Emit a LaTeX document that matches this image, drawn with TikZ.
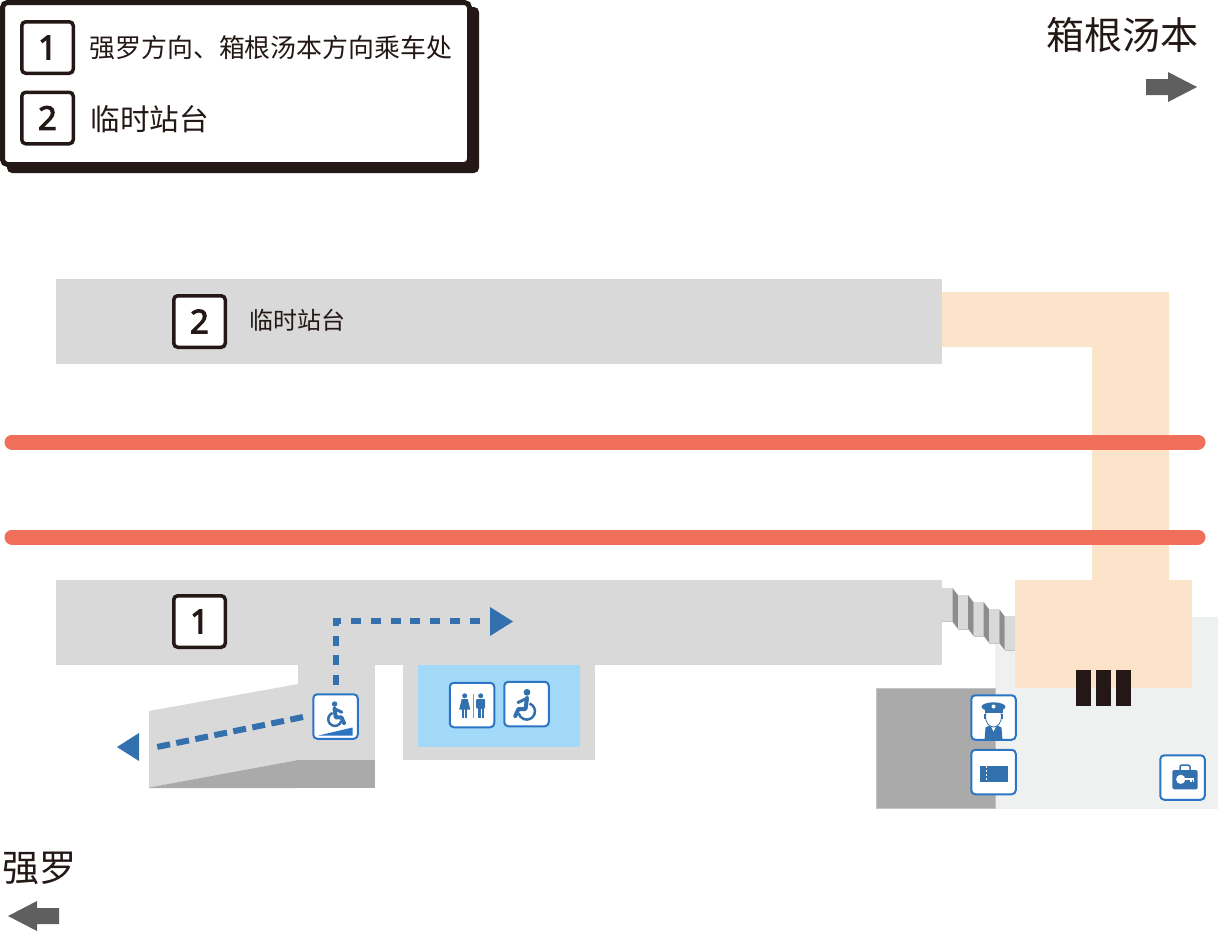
\documentclass[tikz,border=0pt]{standalone}
\usepackage{fontspec}
\usetikzlibrary{calc}
\setmainfont{Noto Sans}
\newfontfamily\cjk{Noto Sans CJK SC}
\newfontfamily\numfont[FakeBold=3]{Noto Sans}
\definecolor{ink}{HTML}{231815}
\definecolor{platgray}{HTML}{D9D9D9}
\definecolor{darkgray}{HTML}{A9AAA9}
\definecolor{stepdark}{HTML}{8C8E8D}
\definecolor{stepedge}{HTML}{C4C4C4}
\definecolor{peach}{HTML}{FCE4CA}
\definecolor{railred}{HTML}{EF6F5B}
\definecolor{paleground}{HTML}{EFF1F0}
\definecolor{routeblue}{HTML}{3371AE}
\definecolor{iconline}{HTML}{2B75C4}
\definecolor{roomblue}{HTML}{A3D9F8}
\definecolor{dirgray}{HTML}{5F5F5F}
\tikzset{
  numbox/.style={draw=ink,line width=3.5pt,fill=white,rounded corners=4pt,minimum size=51.5pt,inner sep=0pt,outer sep=0pt,text=ink,font=\numfont\fontsize{33}{33}\selectfont},
  iconbox/.style={draw=iconline,line width=2pt,fill=white,rounded corners=4pt,minimum size=44.5pt,inner sep=0pt,outer sep=0pt},
  rail/.style={draw=railred,line width=15pt,line cap=round},
  route/.style={draw=routeblue,line width=6pt,dash pattern=on 10pt off 9.8pt},
  sloperoute/.style={draw=routeblue,line width=6pt,dash pattern=on 13pt off 6.4pt},
  tip/.style={fill=routeblue},
  label/.style={text=ink,inner sep=0pt,outer sep=0pt},
  dirarrow/.style={fill=dirgray},
  glyph/.style={fill=routeblue},
}
\newcommand{\chairicon}{%
  \fill[glyph] (0.5,-11.7) circle[radius=3.4pt];
  \draw[routeblue,line width=4pt,line join=round,line cap=round] (0.5,-6) -- (-1,5) -- (-8,5) -- (-11.2,12);
  \draw[routeblue,line width=3pt,line cap=round] (0,-5.5) -- (-8.5,-1.5);
  \draw[routeblue,line width=2.5pt] (3,-0.5) arc[start angle=70,end angle=-165,radius=8.3pt];
}
\begin{document}
\begin{tikzpicture}[x=1pt,y=-1pt]
\useasboundingbox (0,0) rectangle (1218,932);
% legend panel
\fill[ink,rounded corners=5pt] (7,7) rectangle (479,173);
\draw[ink,fill=white,line width=5pt,rounded corners=5pt] (2.5,2.5) rectangle (469.5,164.5);
\node[numbox] (legendone) at (47.5,47.5) {1};
\node[numbox] (legendtwo) at (47.5,118) {2};
\node[label,anchor=west,font=\cjk\fontsize{25.9}{26}\selectfont] (legendonetext) at (89.5,48) {强罗方向、箱根汤本方向乘车处};
\node[label,anchor=west,font=\cjk\fontsize{29.6}{30}\selectfont] (legendtwotext) at (90.5,119) {临时站台};
% direction labels
\node[label,anchor=east,font=\cjk\fontsize{38}{38}\selectfont] (hakone) at (1198,35) {箱根汤本};
\fill[dirarrow] (1146,79) -- (1168,79) -- (1168,72) -- (1197,87) -- (1168,102) -- (1168,95) -- (1146,95) -- cycle;
\node[label,anchor=west,font=\cjk\fontsize{37}{37}\selectfont] (gora) at (2,868) {强罗};
\fill[dirarrow] (59,908) -- (37,908) -- (37,901) -- (8,916) -- (37,931) -- (37,924) -- (59,924) -- cycle;
% ground and station building
\fill[paleground] (995,617) rectangle (1218,809);
\draw[stepedge,fill=darkgray,line width=1pt] (876.5,688.5) rectangle (995,808.5);
\fill[peach] (942,292) -- (1169,292) -- (1169,580) -- (1092,580) -- (1092,347) -- (942,347) -- cycle;
\fill[peach] (1015,580) rectangle (1192,688);
% platforms
\fill[platgray] (56,279) rectangle (942,364);
\fill[platgray] (56,580) rectangle (942,665);
% rails
\draw[rail] (12,442) -- (1198,442);
\draw[rail] (12,537) -- (1198,537);
% stairs
\foreach \k in {0,1,2,3,4}{
  \pgfmathsetmacro{\xa}{942.3+15.6*\k}
  \pgfmathsetmacro{\xb}{\xa+10.2}
  \pgfmathsetmacro{\ya}{588+7.1*\k}
  \pgfmathsetmacro{\yb}{\ya+33.7}
  \fill[platgray] (\xa,\ya) rectangle (\xb,\yb);
  \draw[stepedge,line width=0.6pt] (\xa,\yb) -- (\xb,\yb);
  \ifnum\k<4
    \pgfmathsetmacro{\xc}{\xb+5.4}
    \pgfmathsetmacro{\yc}{\ya+7.1}
    \pgfmathsetmacro{\yd}{\yb+7.1}
    \fill[stepdark] (\xb,\ya) -- (\xc,\yc) -- (\xc,\yd) -- (\xb,\yb) -- cycle;
  \fi
}
% gates
\fill[ink] (1076,670) rectangle (1091,706);
\fill[ink] (1096,670) rectangle (1111,706);
\fill[ink] (1116,670) rectangle (1131,706);
% ramp
\fill[platgray] (298,665) rectangle (375,760);
\fill[darkgray] (298,760) rectangle (375,788);
\fill[platgray] (149,711) -- (298,684) -- (298,760) -- (149,787.5) -- cycle;
\fill[darkgray] (149,787.5) -- (298,760) -- (298,788) -- (149,788) -- cycle;
% toilet block
\fill[platgray] (403,665) rectangle (595,760);
\fill[roomblue] (418,665) rectangle (580,747);
% platform numbers and label
\node[numbox] (platformtwo) at (199.5,321.5) {2};
\node[numbox] (platformone) at (199.5,621.5) {1};
\node[label,anchor=west,font=\cjk\fontsize{24}{24}\selectfont] (platformtwotext) at (249,320) {临时站台};
% icon boxes
\node[iconbox] (rampicon) at (335.5,716.5) {};
\node[iconbox] (toileticon) at (472,705) {};
\node[iconbox] (chairbox) at (526.5,704) {};
\node[iconbox] (staffbox) at (993.5,717.5) {};
\node[iconbox] (ticketbox) at (993.5,772) {};
\node[iconbox] (lockerbox) at (1182.5,777.5) {};
% routes
\coordinate (rampstart) at ($(rampicon.north)+(0.5,-9)$);
\coordinate (rampcorner) at (rampstart |- 0,621);
\coordinate (routeend) at (490,621);
\coordinate (slopetop) at (303,717);
\coordinate (slopeend) at (152,748);
\draw[route] (rampstart) -- (rampcorner) -- (routeend);
\fill[tip] (routeend |- 0,607) -- (513,621.5) -- (490,636) -- cycle;
\draw[sloperoute] (slopetop) -- (slopeend);
\fill[tip] (139,733) -- (139,761) -- (117,747) -- cycle;
% ramp wheelchair glyph
\begin{scope}[shift={(rampicon.center)}]
  \begin{scope}[shift={(-0.5,-3.1)},xscale=-0.8,yscale=0.8]
    \chairicon
  \end{scope}
  \fill[iconline] (-17,19) -- (17,11) -- (17,19) -- cycle;
\end{scope}
% wheelchair glyph
\begin{scope}[shift={(chairbox.center)}]
  \chairicon
\end{scope}
% toilet glyphs
\begin{scope}[shift={(toileticon.center)}]
  \draw[routeblue!70!white,line width=0.8pt] (1.3,-11) -- (1.3,12.7);
  \fill[glyph] (-7.3,-9.2) circle[radius=2.5pt];
  \fill[glyph] (-10.3,-6) -- (-4.3,-6) -- (-1.8,4.5) -- (-12.8,4.5) -- cycle;
  \fill[glyph] (-10,4) rectangle (-7.8,12.7);
  \fill[glyph] (-6.8,4) rectangle (-4.6,12.7);
  \fill[glyph] (8.7,-9.2) circle[radius=2.5pt];
  \fill[glyph,rounded corners=1pt] (4.2,-6) rectangle (13.2,3.5);
  \fill[glyph] (5.8,0) rectangle (11.6,12.7);
  \draw[white,line width=0.4pt] (8.7,4) -- (8.7,12.7);
\end{scope}
% staff glyph
\begin{scope}[shift={(staffbox.center)}]
  \fill[glyph] (-9,23) -- (-8,10) -- (-3,7.5) -- (3,7.5) -- (8,10) -- (9,23) -- cycle;
  \fill[white] (-3.5,7) -- (3.5,7) -- (0,14) -- cycle;
  \draw[routeblue,fill=white,line width=0.8pt] (0,-1) ellipse[x radius=8pt,y radius=10.5pt];
  \fill[glyph] (-9.5,-4) rectangle (-7.4,1);
  \fill[glyph] (7.4,-4) rectangle (9.5,1);
  \fill[glyph] (0,-10.7) ellipse[x radius=12pt,y radius=4.5pt];
  \fill[glyph] (-9,-9) rectangle (9,-5);
  \fill[white] (0,-11) circle[radius=2pt];
\end{scope}
% ticket glyph
\begin{scope}[shift={(ticketbox.center)}]
  \fill[glyph] (-13.5,-6) rectangle (14.5,9.7);
  \draw[white,line width=1.2pt,dash pattern=on 2pt off 2pt] (-6.8,-6) -- (-6.8,9.7);
\end{scope}
% locker glyph
\begin{scope}[shift={(lockerbox.center)}]
  \draw[routeblue,line width=1.5pt,rounded corners=2pt] (-2.5,-7.5) -- (-2.5,-12.5) -- (7.5,-12.5) -- (7.5,-7.5);
  \fill[glyph,rounded corners=1.5pt] (-10.2,-7.5) rectangle (15.2,11.8);
  \fill[white] (-1.8,1.8) circle[radius=4.6pt];
  \fill[white] (0,0.8) rectangle (11.8,2.8);
  \fill[white] (7,2.8) rectangle (9,4.8);
  \fill[white] (10,2.8) rectangle (11.8,4.4);
\end{scope}
\end{tikzpicture}
\end{document}
